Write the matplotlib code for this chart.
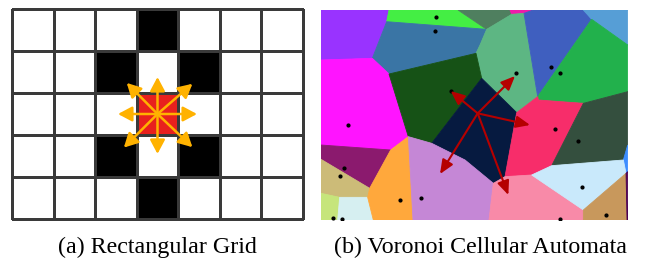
import matplotlib
matplotlib.use("Agg")
import matplotlib.pyplot as plt
import numpy as np
from matplotlib.colors import ListedColormap
from matplotlib.patches import Polygon

# ---------------- Panel (a): rectangular grid ----------------
grid_states = [
    [0, 0, 0, 1, 0, 0, 0],
    [0, 0, 1, 0, 1, 0, 0],
    [0, 0, 0, 2, 0, 0, 0],
    [0, 0, 1, 0, 1, 0, 0],
    [0, 0, 0, 1, 0, 0, 0],
]
state_colors = ["#FFFFFF", "#000000", "#E8201E"]
center_cell = (3, 2)  # (col, row)
# neighbour arrow vectors (in cell units, dx, dy with y downward)
arrow_dx = [0.95, 0.84, 0.0, -0.74, -0.95, -0.81, 0.0, 0.84]
arrow_dy = [0.0, -0.72, -0.88, -0.74, 0.0, 0.80, 0.95, 0.79]
grid_arrow_color = "#FFB200"

# ---------------- Panel (b): Voronoi cells ----------------
cell_colors = [
    "#9933FF", "#44EE44", "#4F7F5F", "#EE1AAA", "#3A75A5", "#5DB683",
    "#3F5FBF", "#569ED6", "#22B14C", "#FF14FF", "#165216", "#061A40",
    "#F72D6A", "#344F3E", "#3D8DFF", "#8B1A6E", "#CCBB78", "#C6E57B",
    "#D6EFF1", "#FFA83C", "#C587D6", "#F88AA8", "#C9E9FB", "#C8985C",
    "#4B0052",
]
cell_vertices = [
    [(18, 30), (222, 30), (215, 65), (172, 175), (18, 180)],                      # purple
    [(222, 30), (429, 30), (515, 88), (215, 65)],                                 # bright green
    [(429, 30), (585, 30), (590, 43), (515, 88)],                                 # grey green
    [(585, 30), (655, 30), (627, 40), (590, 43)],                                 # hot pink
    [(215, 65), (515, 88), (495, 135), (483, 160), (222, 222), (172, 175)],       # steel blue
    [(515, 88), (590, 43), (627, 40), (668, 290), (605, 338), (500, 235),
     (483, 160), (495, 135)],                                                     # light green
    [(627, 40), (655, 30), (805, 30), (830, 58), (668, 290)],                     # blue
    [(805, 30), (938, 30), (938, 135), (830, 58)],                                # light blue
    [(830, 58), (938, 135), (938, 275), (805, 310), (670, 300), (668, 290)],      # green
    [(18, 180), (172, 175), (222, 222), (280, 410), (227, 450), (18, 435)],       # magenta
    [(222, 222), (483, 160), (500, 235), (350, 430), (280, 410)],                 # dark green
    [(500, 235), (605, 338), (570, 530), (535, 550), (450, 480), (350, 430)],     # navy
    [(605, 338), (668, 290), (670, 300), (805, 310), (710, 497), (650, 525),
     (570, 530)],                                                                 # pink red
    [(805, 310), (938, 275), (938, 435), (925, 480), (710, 497)],                 # dark slate
    [(938, 435), (938, 515), (933, 520), (925, 480)],                             # blue sliver
    [(18, 435), (227, 450), (164, 565), (18, 478)],                               # maroon
    [(18, 478), (164, 565), (158, 592), (74, 592), (18, 580)],                    # khaki
    [(18, 580), (74, 592), (68, 660), (18, 660)],                                 # lime
    [(74, 592), (158, 592), (175, 660), (68, 660)],                               # pale cyan
    [(227, 450), (280, 410), (294, 660), (175, 660), (158, 592), (164, 565)],     # orange
    [(280, 410), (350, 430), (450, 480), (535, 550), (522, 660), (294, 660)],     # lavender
    [(535, 550), (570, 530), (650, 525), (805, 630), (805, 660), (522, 660)],     # salmon pink
    [(650, 525), (710, 497), (925, 480), (933, 520), (805, 630)],                 # sky
    [(805, 630), (933, 520), (936, 660), (805, 660)],                             # tan
    [(933, 520), (938, 515), (938, 660), (936, 660)],                             # dark purple
]
seed_x = [363, 361, 708, 735, 604, 407, 98, 721, 790, 88, 75, 801, 255, 317, 874, 55, 82, 736]
seed_y = [52, 93, 200, 220, 220, 273, 375, 386, 423, 505, 527, 560, 601, 594, 644, 653, 657, 658]
arrow_origin = (488, 340)
arrow_target_x = [407, 600, 645, 375, 580]
arrow_target_y = [273, 228, 375, 522, 585]
voronoi_arrow_color = "#B50000"

captions = ["(a) Rectangular Grid", "(b) Voronoi Cellular Automata"]

# ---------------- Figure ----------------
W, H = 650, 258
fig = plt.figure(figsize=(W / 100, H / 100), dpi=100)

# Panel (a)
axa = fig.add_axes([12 / W, (H - 219) / H, 291 / W, 210 / H])
states = np.array(grid_states)
nrows, ncols = states.shape
axa.pcolormesh(np.arange(ncols + 1), np.arange(nrows + 1), states,
               cmap=ListedColormap(state_colors), vmin=-0.5, vmax=2.5,
               edgecolors="#3A3A3A", linewidth=0.8, clip_on=False)
axa.set_xlim(0, ncols)
axa.set_ylim(nrows, 0)
axa.axis("off")
cx, cy = center_cell[0] + 0.5, center_cell[1] + 0.5
for dx, dy in zip(arrow_dx, arrow_dy):
    axa.annotate("", xy=(cx + dx, cy + dy), xytext=(cx, cy),
                 arrowprops=dict(arrowstyle="-|>,head_length=0.6,head_width=0.32",
                                 color=grid_arrow_color, lw=1.8,
                                 mutation_scale=14, shrinkA=0, shrinkB=0))

# Panel (b)
axb = fig.add_axes([321 / W, (H - 220) / H, 306.7 / W, 210 / H])
for verts, col in zip(cell_vertices, cell_colors):
    axb.add_patch(Polygon(verts, closed=True, facecolor=col, edgecolor=col,
                          lw=0.6, joinstyle="miter"))
axb.plot(seed_x, seed_y, "o", color="black", markersize=2.0, zorder=3)
for tx, ty in zip(arrow_target_x, arrow_target_y):
    axb.annotate("", xy=(tx, ty), xytext=arrow_origin,
                 arrowprops=dict(arrowstyle="-|>,head_length=0.7,head_width=0.3",
                                 color=voronoi_arrow_color, lw=1.5,
                                 mutation_scale=12, shrinkA=0, shrinkB=0),
                 zorder=4)
axb.set_xlim(18, 938)
axb.set_ylim(660, 30)
axb.axis("off")

# Captions
fig.text(157.5 / W, (H - 253) / H, captions[0], ha="center", va="baseline",
         fontsize=17.3, family="Liberation Serif")
fig.text(481 / W, (H - 253) / H, captions[1], ha="center", va="baseline",
         fontsize=17.3, family="Liberation Serif")

fig.savefig("out.png", dpi=100)
